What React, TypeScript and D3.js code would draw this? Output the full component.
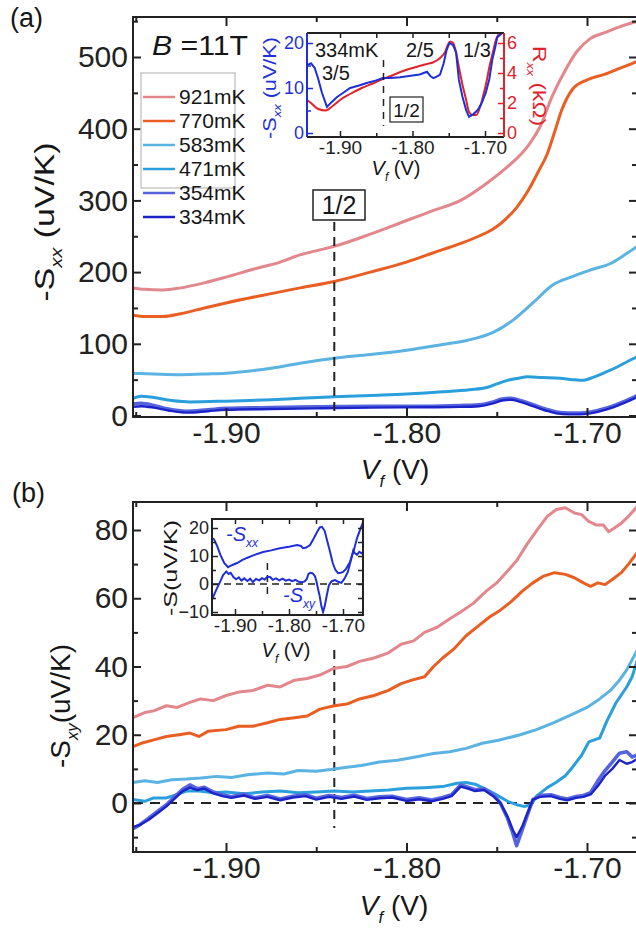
import { useEffect, useRef } from "react";
import * as d3 from "d3";

type Pt = [number, number];
type Part = { t: string; italic?: boolean; sub?: boolean };

const FONT = "'Liberation Sans', Arial, Helvetica, sans-serif";

const temps = ["921mK", "770mK", "583mK", "471mK", "354mK", "334mK"];
const colors = ["#e2878b", "#e95e22", "#5bb3e2", "#2a9fdc", "#5563dd", "#1c24c9"];
const widths = [3, 3, 3, 3, 3.6, 2.4];

// (a) -Sxx (uV/K) vs Vf (V)
const sxx921: Pt[] = [[-1.9515,178],[-1.945,176],[-1.935,175],[-1.925,178],[-1.912,185],[-1.9,193],[-1.885,204],[-1.87,214],[-1.859,224],[-1.848,231],[-1.84,236],[-1.82,253],[-1.8,272],[-1.785,286],[-1.77,300],[-1.7555,324],[-1.744,347],[-1.733,375],[-1.725,408],[-1.7205,438],[-1.713,477],[-1.7055,508],[-1.698,526],[-1.689,535],[-1.682,542],[-1.672,550]];
const sxx770: Pt[] = [[-1.9515,140],[-1.945,138],[-1.935,138],[-1.925,142],[-1.912,150],[-1.9,157],[-1.875,170],[-1.859,178],[-1.84,187],[-1.82,200],[-1.8,214],[-1.785,227],[-1.77,240],[-1.76,250],[-1.752,260],[-1.745,274],[-1.739,290],[-1.733,312],[-1.727,340],[-1.722,365],[-1.718,395],[-1.714,426],[-1.708,455],[-1.7,468],[-1.69,476],[-1.682,484],[-1.672,494]];
const sxx583: Pt[] = [[-1.9515,59],[-1.94,58],[-1.925,57],[-1.91,58],[-1.9,59],[-1.875,66],[-1.859,73],[-1.84,80],[-1.82,85],[-1.8,91],[-1.78,99],[-1.766,105],[-1.752,116],[-1.741,133],[-1.73,157],[-1.719,182],[-1.709,193],[-1.698,203],[-1.687,212],[-1.678,226],[-1.672,236]];
const sxx471: Pt[] = [[-1.9515,24],[-1.947,27],[-1.94,25],[-1.93,21],[-1.92,19],[-1.9,20],[-1.875,22],[-1.859,24],[-1.84,26],[-1.82,28],[-1.8,30],[-1.78,33],[-1.765,36],[-1.7555,39],[-1.75,44],[-1.744,49],[-1.738,52],[-1.733,54],[-1.725,53],[-1.715,52],[-1.708,50],[-1.702,49],[-1.698,52],[-1.69,60],[-1.683,68],[-1.677,76],[-1.672,82]];
const sxx354: Pt[] = [[-1.9515,16],[-1.947,17],[-1.94,14],[-1.932,9],[-1.922,6],[-1.91,8],[-1.9,10],[-1.875,11],[-1.85,12],[-1.82,13],[-1.79,13],[-1.77,14],[-1.76,15],[-1.752,19],[-1.747,23],[-1.742,24],[-1.737,21],[-1.73,15],[-1.723,9],[-1.717,5],[-1.71,3.5],[-1.704,3.5],[-1.698,5],[-1.689,10.5],[-1.68,19],[-1.672,28]];
const sxx334: Pt[] = [[-1.9515,12],[-1.947,13],[-1.94,11],[-1.932,7],[-1.922,4],[-1.91,6],[-1.9,8],[-1.875,9],[-1.85,10],[-1.82,11],[-1.79,11.5],[-1.77,12],[-1.76,13],[-1.752,17],[-1.747,21],[-1.742,22],[-1.737,19],[-1.73,13],[-1.723,7],[-1.717,3],[-1.71,1.5],[-1.704,1.5],[-1.698,3],[-1.689,8.5],[-1.68,17],[-1.672,26]];

// (b) -Sxy (uV/K) vs Vf (V)
const sxy921: Pt[] = [[-1.9515,25],[-1.945,26.5],[-1.94,27],[-1.933,28.5],[-1.927,28],[-1.92,29.5],[-1.914,30.5],[-1.907,30],[-1.9,31.5],[-1.893,32.5],[-1.885,33],[-1.877,34.5],[-1.87,34],[-1.862,36],[-1.855,36.5],[-1.848,37.5],[-1.84,39.5],[-1.833,40],[-1.826,41.5],[-1.818,42.5],[-1.81,44],[-1.803,46.5],[-1.796,47.5],[-1.79,50],[-1.783,51.5],[-1.776,54],[-1.77,56],[-1.763,58.5],[-1.756,62],[-1.75,64.5],[-1.744,68],[-1.739,71],[-1.733,76],[-1.727,80.5],[-1.722,84],[-1.717,86],[-1.712,86.5],[-1.707,85],[-1.703,84.5],[-1.699,82.5],[-1.695,81.5],[-1.691,81.5],[-1.688,79.5],[-1.685,80.5],[-1.681,82],[-1.677,84],[-1.672,87]];
const sxy770: Pt[] = [[-1.9515,16.5],[-1.947,17.5],[-1.94,18.5],[-1.933,19.5],[-1.926,20],[-1.92,20.5],[-1.915,19.5],[-1.91,21],[-1.9,21.5],[-1.893,22.5],[-1.885,22.5],[-1.877,23.5],[-1.87,24.5],[-1.862,25],[-1.855,25.5],[-1.848,27.5],[-1.84,28.5],[-1.833,29],[-1.826,30.5],[-1.818,31.5],[-1.81,33],[-1.803,35],[-1.797,36],[-1.79,37],[-1.785,40],[-1.78,42.5],[-1.774,45],[-1.767,49],[-1.76,52],[-1.754,54.5],[-1.748,56.5],[-1.742,59],[-1.736,62],[-1.73,64.5],[-1.724,66.5],[-1.718,67.5],[-1.712,67],[-1.707,66],[-1.702,64.5],[-1.698,63.5],[-1.694,64.5],[-1.69,64],[-1.686,65.5],[-1.681,67.5],[-1.677,70],[-1.672,73.5]];
const sxy583: Pt[] = [[-1.9515,6],[-1.945,6.5],[-1.938,6],[-1.93,6.8],[-1.922,7],[-1.914,7.3],[-1.905,7.8],[-1.897,7.5],[-1.888,8.3],[-1.877,8.8],[-1.868,8.5],[-1.86,9.5],[-1.85,9.3],[-1.842,9.8],[-1.833,10.5],[-1.825,11],[-1.815,12],[-1.805,12.5],[-1.795,13.5],[-1.785,14.5],[-1.776,15],[-1.767,16],[-1.758,17.5],[-1.749,18.4],[-1.737,20],[-1.728,21.5],[-1.719,23.4],[-1.71,25.5],[-1.7,28],[-1.693,30.5],[-1.687,33],[-1.682,36],[-1.678,39],[-1.675,42],[-1.672,45]];
const sxy471: Pt[] = [[-1.9515,1],[-1.945,0.5],[-1.94,1.5],[-1.933,1.5],[-1.927,2.5],[-1.922,3.5],[-1.915,3.5],[-1.907,3],[-1.9,3.2],[-1.89,2.7],[-1.88,3.2],[-1.87,3.5],[-1.86,3],[-1.85,3.2],[-1.84,3.5],[-1.83,3.2],[-1.82,3.5],[-1.81,3.8],[-1.8,4.3],[-1.79,4.5],[-1.78,4.8],[-1.772,5.8],[-1.767,6],[-1.762,5.5],[-1.755,3.8],[-1.749,2],[-1.744,0.5],[-1.739,-0.5],[-1.735,-1],[-1.731,-0.6],[-1.728,2],[-1.722,4.5],[-1.717,6.1],[-1.712,8],[-1.708,10.5],[-1.703,14],[-1.699,17.9],[-1.696,18.5],[-1.693,19],[-1.689,24],[-1.684,29.3],[-1.678,34],[-1.675,37],[-1.672,42]];
const sxy354: Pt[] = [[-1.9515,-7.5],[-1.948,-6.5],[-1.943,-4.5],[-1.938,-2.5],[-1.933,-0.5],[-1.928,2],[-1.924,4],[-1.92,5.3],[-1.916,4.2],[-1.912,4.6],[-1.907,3.2],[-1.902,2.4],[-1.897,1.8],[-1.89,2.6],[-1.884,1.5],[-1.877,2.2],[-1.87,1.2],[-1.863,2],[-1.856,2.4],[-1.85,1.4],[-1.843,2.2],[-1.836,1.6],[-1.829,2.3],[-1.822,1.3],[-1.815,1.8],[-1.808,2],[-1.8,1],[-1.793,1.5],[-1.786,0.9],[-1.78,1.6],[-1.775,2.4],[-1.77,5.3],[-1.766,4.6],[-1.762,3.9],[-1.757,4.2],[-1.752,2.4],[-1.748,0],[-1.744,-4.5],[-1.741,-9],[-1.739,-12.5],[-1.736,-8],[-1.733,-3.5],[-1.73,1],[-1.726,2.2],[-1.72,2.4],[-1.715,1.6],[-1.711,1.2],[-1.706,1.9],[-1.702,2.2],[-1.698,3],[-1.694,6.5],[-1.69,9.5],[-1.686,12],[-1.682,14.6],[-1.678,15],[-1.675,13.5],[-1.672,14]];
const sxy334: Pt[] = [[-1.9515,-7],[-1.948,-6.5],[-1.943,-5],[-1.938,-3],[-1.933,-1],[-1.928,1.5],[-1.924,3.5],[-1.92,4.5],[-1.916,3.8],[-1.912,4.2],[-1.907,2.8],[-1.902,2],[-1.897,1.5],[-1.89,2.2],[-1.884,1.2],[-1.877,1.8],[-1.87,0.8],[-1.863,1.6],[-1.856,2],[-1.85,1],[-1.843,1.8],[-1.836,1.2],[-1.829,1.9],[-1.822,0.9],[-1.815,1.4],[-1.808,1.6],[-1.8,0.6],[-1.793,1.1],[-1.786,0.5],[-1.78,1.2],[-1.775,2],[-1.77,4.8],[-1.766,4.2],[-1.762,3.5],[-1.757,3.8],[-1.752,2],[-1.748,0],[-1.744,-4],[-1.741,-8],[-1.739,-10],[-1.736,-7],[-1.733,-3],[-1.73,1],[-1.726,1.8],[-1.72,2],[-1.715,1.2],[-1.711,0.8],[-1.706,1.5],[-1.702,1.8],[-1.698,2.5],[-1.694,5],[-1.69,8],[-1.686,10],[-1.682,12.6],[-1.678,11.5],[-1.675,12],[-1.672,13]];

// inset (a): 334mK, -Sxx (uV/K) and Rxx (kOhm)
const insetSxx: Pt[] = [[-1.9455,15],[-1.94,15.5],[-1.935,14.5],[-1.93,12],[-1.925,9],[-1.918,5.8],[-1.912,6.8],[-1.904,8],[-1.895,9],[-1.886,10],[-1.875,10.5],[-1.863,11.1],[-1.85,11.7],[-1.841,12.2],[-1.83,12.2],[-1.817,12.4],[-1.8,12.8],[-1.79,13],[-1.78,13.6],[-1.775,12.6],[-1.771,12.2],[-1.766,12.6],[-1.762,13],[-1.757,15.5],[-1.753,18.4],[-1.749,20],[-1.744,19.5],[-1.74,18],[-1.736,11.8],[-1.731,8],[-1.726,5.1],[-1.722,3.6],[-1.716,4.2],[-1.71,5.1],[-1.705,6.5],[-1.699,8.9],[-1.694,12],[-1.69,16.2],[-1.686,19],[-1.683,21.3],[-1.674,22.5]];
const insetRxx: Pt[] = [[-1.9455,2.2],[-1.94,2],[-1.93,1.6],[-1.92,1.5],[-1.91,1.8],[-1.9,2.2],[-1.886,2.6],[-1.87,3],[-1.855,3.3],[-1.841,3.6],[-1.83,3.8],[-1.815,4.1],[-1.795,4.4],[-1.78,4.6],[-1.772,4.7],[-1.762,5],[-1.755,5.4],[-1.751,5.9],[-1.748,6.1],[-1.744,6],[-1.74,5.4],[-1.736,4.4],[-1.731,3.2],[-1.726,2.2],[-1.722,1.4],[-1.717,1.2],[-1.712,1.2],[-1.707,1.7],[-1.703,2.4],[-1.698,3.4],[-1.694,4.4],[-1.689,5.4],[-1.685,6.2],[-1.681,6.6]];

// inset (b): -Sxx and -Sxy (uV/K)
const insetBSxx: Pt[] = [[-1.9426,16.4],[-1.939,16],[-1.933,13.5],[-1.927,10.4],[-1.92,7.5],[-1.913,6],[-1.905,6.8],[-1.896,7.5],[-1.887,8.5],[-1.878,9.3],[-1.865,10.3],[-1.848,11.4],[-1.833,12],[-1.817,12.8],[-1.8,13.3],[-1.785,13.9],[-1.778,13.6],[-1.774,12.8],[-1.768,13],[-1.761,13.9],[-1.755,16],[-1.748,18.6],[-1.743,20.2],[-1.739,20.4],[-1.734,19],[-1.73,16],[-1.724,11.5],[-1.719,7.5],[-1.714,5],[-1.709,3.9],[-1.704,4],[-1.7,4.3],[-1.694,5.5],[-1.687,7.9],[-1.68,12],[-1.674,16.4],[-1.668,19.5],[-1.663,22]];
const insetBSxy: Pt[] = [[-1.9426,-5.7],[-1.938,-3.5],[-1.933,-1.4],[-1.927,1],[-1.922,3.2],[-1.916,4.5],[-1.912,3.6],[-1.908,4],[-1.903,2.5],[-1.898,1.7],[-1.893,2.4],[-1.888,1.2],[-1.883,2],[-1.877,1.1],[-1.872,1.9],[-1.867,0.7],[-1.861,1.8],[-1.855,1.3],[-1.85,2.1],[-1.845,1.6],[-1.84,2.6],[-1.835,2.5],[-1.83,1.5],[-1.824,2],[-1.818,1.3],[-1.812,1.9],[-1.806,1.2],[-1.8,1.6],[-1.794,1],[-1.788,1.5],[-1.782,0.8],[-1.776,0.6],[-1.771,0.9],[-1.767,1.8],[-1.764,3.6],[-1.76,4],[-1.756,3.8],[-1.752,2.8],[-1.749,0.8],[-1.746,-2],[-1.743,-4.5],[-1.74,-8],[-1.737,-10],[-1.734,-8],[-1.73,-4],[-1.726,-0.4],[-1.721,1],[-1.715,1.4],[-1.709,0.8],[-1.703,0.4],[-1.697,2],[-1.691,4.3],[-1.686,8],[-1.681,12],[-1.678,11],[-1.674,10.4],[-1.67,11.5],[-1.666,11],[-1.663,11.4]];

const sxxSeries = [sxx921, sxx770, sxx583, sxx471, sxx354, sxx334];
const sxySeries = [sxy921, sxy770, sxy583, sxy471, sxy354, sxy334];

const xTicks = [-1.9, -1.8, -1.7];
const xMinor = [-1.95, -1.85, -1.75];
const yTicksA = [0, 100, 200, 300, 400, 500];
const yMinorA = [50, 150, 250, 350, 450, 550];
const yTicksB = [0, 20, 40, 60, 80];
const yMinorB = [-10, 10, 30, 50, 70];
const halfFilling = -1.84;

function rich(g: any, x: number, y: number, parts: Part[], size: number, opt: any = {}) {
  const t = g.append("text")
    .attr("font-family", FONT)
    .attr("font-size", size)
    .attr("fill", opt.fill || "#161616")
    .attr("text-anchor", opt.anchor || "start")
    .attr("transform", `translate(${x},${y}) rotate(${opt.rotate || 0})`);
  let shift = 0;
  parts.forEach((p) => {
    const target = p.sub ? size * 0.3 : 0;
    const s = t.append("tspan").text(p.t).attr("dy", target - shift);
    shift = target;
    if (p.italic) s.attr("font-style", "italic");
    if (p.sub) s.attr("font-size", size * 0.6);
  });
  if (opt.len) t.attr("textLength", opt.len).attr("lengthAdjust", "spacingAndGlyphs");
  return t;
}

function axis(g: any, ax: any, tr: string, color: string, sw: number, fs = 10) {
  const a = g.append("g").attr("transform", tr).call(ax);
  a.select(".domain").remove();
  a.attr("font-family", FONT).attr("font-size", fs);
  a.selectAll("line").attr("stroke", color).attr("stroke-width", sw);
  a.selectAll("text").attr("fill", color);
  return a;
}

function draw(svg: any) {
  const fmt = (d: any) => (+d).toFixed(2);
  const none = () => "";

  // ---------- panel (a)
  const L = 133, R = 637, Ta = 17, Ba = 417;
  const x = d3.scaleLinear().domain([-1.9, -1.7]).range([226, 587]);
  const yA = d3.scaleLinear().domain([0, 500]).range([415.5, 57]);

  svg.append("clipPath").attr("id", "clipA").append("rect")
    .attr("x", L).attr("y", Ta).attr("width", R - L).attr("height", Ba - Ta);
  const gA = svg.append("g");
  const lineA = d3.line<Pt>().x((d) => x(d[0])).y((d) => yA(d[1])).curve(d3.curveMonotoneX);
  gA.append("g").attr("clip-path", "url(#clipA)")
    .selectAll("path").data(sxxSeries).join("path")
    .attr("d", (d: Pt[]) => lineA(d))
    .attr("fill", "none")
    .attr("stroke", (_: any, i: number) => colors[i])
    .attr("stroke-width", (_: any, i: number) => widths[i])
    .attr("stroke-linejoin", "round");

  gA.append("line").attr("x1", x(halfFilling)).attr("x2", x(halfFilling))
    .attr("y1", 222).attr("y2", Ba).attr("stroke", "#222").attr("stroke-width", 2).attr("stroke-dasharray", "9,6");
  gA.append("rect").attr("x", 313).attr("y", 190).attr("width", 52).attr("height", 30)
    .attr("fill", "#fff").attr("stroke", "#222").attr("stroke-width", 1.5);
  rich(gA, 339, 214, [{ t: "1/2" }], 25, { anchor: "middle" });

  gA.append("rect").attr("x", L).attr("y", Ta).attr("width", R - L).attr("height", Ba - Ta)
    .attr("fill", "none").attr("stroke", "#222").attr("stroke-width", 2);
  axis(gA, d3.axisBottom(x).tickValues(xTicks).tickFormat(fmt).tickSizeInner(-9).tickSizeOuter(0).tickPadding(5), `translate(0,${Ba})`, "#222", 2, 30);
  axis(gA, d3.axisBottom(x).tickValues(xMinor).tickFormat(none).tickSizeInner(-5).tickSizeOuter(0), `translate(0,${Ba})`, "#222", 2);
  axis(gA, d3.axisTop(x).tickValues(xTicks).tickFormat(none).tickSizeInner(-9).tickSizeOuter(0), `translate(0,${Ta})`, "#222", 2);
  axis(gA, d3.axisTop(x).tickValues(xMinor).tickFormat(none).tickSizeInner(-5).tickSizeOuter(0), `translate(0,${Ta})`, "#222", 2);
  axis(gA, d3.axisLeft(yA).tickValues(yTicksA).tickFormat(d3.format("d")).tickSizeInner(-8).tickSizeOuter(0).tickPadding(5), `translate(${L},0)`, "#222", 2, 30);
  axis(gA, d3.axisLeft(yA).tickValues(yMinorA).tickFormat(none).tickSizeInner(-5).tickSizeOuter(0), `translate(${L},0)`, "#222", 2);
  axis(gA, d3.axisRight(yA).tickValues(yTicksA).tickFormat(none).tickSizeInner(-8).tickSizeOuter(0), `translate(${R},0)`, "#222", 2);
  axis(gA, d3.axisRight(yA).tickValues(yMinorA).tickFormat(none).tickSizeInner(-5).tickSizeOuter(0), `translate(${R},0)`, "#222", 2);

  rich(gA, 10, 27, [{ t: "(a)" }], 27);
  rich(gA, 54, 222, [{ t: "-S" }, { t: "xx", italic: true, sub: true }, { t: " (uV/K)" }], 28, { anchor: "middle", rotate: -90, len: 159 });
  rich(gA, 395, 479, [{ t: "V", italic: true }, { t: "f", italic: true, sub: true }, { t: " (V)" }], 28, { anchor: "middle" });
  rich(gA, 152, 55, [{ t: "B", italic: true }, { t: " =11T" }], 27, { len: 96 });

  // legend
  gA.append("rect").attr("x", 141).attr("y", 73).attr("width", 94).attr("height", 115)
    .attr("fill", "none").attr("stroke", "#c9c9c9").attr("stroke-width", 1.5);
  const rowY = [97, 121, 145, 169, 193, 217];
  temps.forEach((t, i) => {
    gA.append("line").attr("x1", 143).attr("x2", 175).attr("y1", rowY[i]).attr("y2", rowY[i])
      .attr("stroke", colors[i]).attr("stroke-width", 2.5);
    rich(gA, 179, rowY[i] + 7, [{ t }], 21);
  });

  // ---------- inset (a)
  const iL = 307, iR = 504, iT = 33, iB = 137;
  const xi = d3.scaleLinear().domain([-1.9, -1.7]).range([340, 485]);
  const yiL = d3.scaleLinear().domain([0, 20]).range([133, 43]);
  const yiR = d3.scaleLinear().domain([0, 6]).range([133, 43]);
  const blue = "#1f2fd8", red = "#e0232b";
  const gI = svg.append("g");
  gI.append("rect").attr("x", iL).attr("y", iT).attr("width", iR - iL).attr("height", iB - iT).attr("fill", "#fff");
  svg.append("clipPath").attr("id", "clipIA").append("rect")
    .attr("x", iL).attr("y", iT).attr("width", iR - iL).attr("height", iB - iT);
  const ci = gI.append("g").attr("clip-path", "url(#clipIA)");
  ci.append("path").attr("d", d3.line<Pt>().x((d) => xi(d[0])).y((d) => yiR(d[1])).curve(d3.curveMonotoneX)(insetRxx))
    .attr("fill", "none").attr("stroke", red).attr("stroke-width", 2);
  ci.append("path").attr("d", d3.line<Pt>().x((d) => xi(d[0])).y((d) => yiL(d[1]))(insetSxx))
    .attr("fill", "none").attr("stroke", blue).attr("stroke-width", 2);
  gI.append("line").attr("x1", xi(halfFilling)).attr("x2", xi(halfFilling)).attr("y1", 60).attr("y2", 126)
    .attr("stroke", "#222").attr("stroke-width", 1.5).attr("stroke-dasharray", "7,6");
  gI.append("rect").attr("x", 390).attr("y", 97).attr("width", 33).attr("height", 25)
    .attr("fill", "#fff").attr("stroke", "#222").attr("stroke-width", 1.2);
  rich(gI, 406.5, 117, [{ t: "1/2" }], 19, { anchor: "middle" });
  rich(gI, 315, 57, [{ t: "334mK" }], 20);
  rich(gI, 322, 80, [{ t: "3/5" }], 20);
  rich(gI, 406, 57, [{ t: "2/5" }], 20);
  rich(gI, 463, 57, [{ t: "1/3" }], 20);

  gI.append("line").attr("x1", iL).attr("x2", iR).attr("y1", iT).attr("y2", iT).attr("stroke", "#222").attr("stroke-width", 2);
  gI.append("line").attr("x1", iL).attr("x2", iR).attr("y1", iB).attr("y2", iB).attr("stroke", "#222").attr("stroke-width", 2);
  gI.append("line").attr("x1", iL).attr("x2", iL).attr("y1", iT).attr("y2", iB).attr("stroke", blue).attr("stroke-width", 2);
  gI.append("line").attr("x1", iR).attr("x2", iR).attr("y1", iT).attr("y2", iB).attr("stroke", red).attr("stroke-width", 2);
  axis(gI, d3.axisBottom(xi).tickValues(xTicks).tickFormat(fmt).tickSizeInner(-6).tickSizeOuter(0).tickPadding(4), `translate(0,${iB})`, "#222", 1.5, 19);
  axis(gI, d3.axisBottom(xi).tickValues([-1.85, -1.75]).tickFormat(none).tickSizeInner(-4).tickSizeOuter(0), `translate(0,${iB})`, "#222", 1.5);
  axis(gI, d3.axisTop(xi).tickValues([-1.9, -1.85, -1.8, -1.75, -1.7]).tickFormat(none).tickSizeInner(-5).tickSizeOuter(0), `translate(0,${iT})`, "#222", 1.5);
  axis(gI, d3.axisLeft(yiL).tickValues([0, 10, 20]).tickFormat(d3.format("d")).tickSizeInner(-6).tickSizeOuter(0).tickPadding(3), `translate(${iL},0)`, blue, 1.5, 18);
  axis(gI, d3.axisLeft(yiL).tickValues([5, 15]).tickFormat(none).tickSizeInner(-4).tickSizeOuter(0), `translate(${iL},0)`, blue, 1.5);
  axis(gI, d3.axisRight(yiR).tickValues([0, 2, 4, 6]).tickFormat(d3.format("d")).tickSizeInner(-6).tickSizeOuter(0).tickPadding(3), `translate(${iR},0)`, red, 1.5, 18);
  axis(gI, d3.axisRight(yiR).tickValues([1, 3, 5]).tickFormat(none).tickSizeInner(-4).tickSizeOuter(0), `translate(${iR},0)`, red, 1.5);
  rich(gI, 276, 88, [{ t: "-S" }, { t: "xx", italic: true, sub: true }, { t: " (uV/K)" }], 18, { anchor: "middle", rotate: -90, fill: blue, len: 102 });
  rich(gI, 533, 86, [{ t: "R" }, { t: "xx", italic: true, sub: true }, { t: " (k\u03a9)" }], 19, { anchor: "middle", rotate: 90, fill: red, len: 80 });
  rich(gI, 396, 175, [{ t: "V", italic: true }, { t: "f", italic: true, sub: true }, { t: " (V)" }], 20, { anchor: "middle" });

  // ---------- panel (b)
  const Tb = 502, Bb = 852;
  const yB = d3.scaleLinear().domain([0, 80]).range([803, 530]);
  svg.append("clipPath").attr("id", "clipB").append("rect")
    .attr("x", L).attr("y", Tb).attr("width", R - L).attr("height", Bb - Tb);
  const gB = svg.append("g");
  const lineB = d3.line<Pt>().x((d) => x(d[0])).y((d) => yB(d[1]));
  gB.append("line").attr("x1", L).attr("x2", R).attr("y1", yB(0)).attr("y2", yB(0))
    .attr("stroke", "#222").attr("stroke-width", 2).attr("stroke-dasharray", "10,7");
  gB.append("line").attr("x1", x(halfFilling)).attr("x2", x(halfFilling)).attr("y1", 650).attr("y2", 828)
    .attr("stroke", "#222").attr("stroke-width", 2).attr("stroke-dasharray", "9,7");
  gB.append("g").attr("clip-path", "url(#clipB)")
    .selectAll("path").data(sxySeries).join("path")
    .attr("d", (d: Pt[]) => lineB(d))
    .attr("fill", "none")
    .attr("stroke", (_: any, i: number) => colors[i])
    .attr("stroke-width", (_: any, i: number) => widths[i])
    .attr("stroke-linejoin", "round");

  gB.append("rect").attr("x", L).attr("y", Tb).attr("width", R - L).attr("height", Bb - Tb)
    .attr("fill", "none").attr("stroke", "#222").attr("stroke-width", 2);
  axis(gB, d3.axisBottom(x).tickValues(xTicks).tickFormat(fmt).tickSizeInner(-9).tickSizeOuter(0).tickPadding(5), `translate(0,${Bb})`, "#222", 2, 30);
  axis(gB, d3.axisBottom(x).tickValues(xMinor).tickFormat(none).tickSizeInner(-5).tickSizeOuter(0), `translate(0,${Bb})`, "#222", 2);
  axis(gB, d3.axisTop(x).tickValues(xTicks).tickFormat(none).tickSizeInner(-9).tickSizeOuter(0), `translate(0,${Tb})`, "#222", 2);
  axis(gB, d3.axisTop(x).tickValues(xMinor).tickFormat(none).tickSizeInner(-5).tickSizeOuter(0), `translate(0,${Tb})`, "#222", 2);
  axis(gB, d3.axisLeft(yB).tickValues(yTicksB).tickFormat(d3.format("d")).tickSizeInner(-8).tickSizeOuter(0).tickPadding(5), `translate(${L},0)`, "#222", 2, 30);
  axis(gB, d3.axisLeft(yB).tickValues(yMinorB).tickFormat(none).tickSizeInner(-5).tickSizeOuter(0), `translate(${L},0)`, "#222", 2);
  axis(gB, d3.axisRight(yB).tickValues(yTicksB).tickFormat(none).tickSizeInner(-8).tickSizeOuter(0), `translate(${R},0)`, "#222", 2);
  axis(gB, d3.axisRight(yB).tickValues(yMinorB).tickFormat(none).tickSizeInner(-5).tickSizeOuter(0), `translate(${R},0)`, "#222", 2);

  rich(gB, 12, 502, [{ t: "(b)" }], 27);
  rich(gB, 70, 706, [{ t: "-S" }, { t: "xy", italic: true, sub: true }, { t: "(uV/K)" }], 28, { anchor: "middle", rotate: -90, len: 124 });
  rich(gB, 394, 915, [{ t: "V", italic: true }, { t: "f", italic: true, sub: true }, { t: " (V)" }], 28, { anchor: "middle" });

  // ---------- inset (b)
  const jL = 212, jR = 363, jT = 519, jB = 615;
  const xj = d3.scaleLinear().domain([-1.9, -1.7]).range([235, 343]);
  const yj = d3.scaleLinear().domain([0, 20]).range([584, 528]);
  const gJ = svg.append("g");
  gJ.append("rect").attr("x", jL).attr("y", jT).attr("width", jR - jL).attr("height", jB - jT).attr("fill", "#fff");
  gJ.append("line").attr("x1", jL).attr("x2", jR).attr("y1", yj(0)).attr("y2", yj(0))
    .attr("stroke", "#222").attr("stroke-width", 1.5).attr("stroke-dasharray", "7,5");
  gJ.append("line").attr("x1", xj(halfFilling)).attr("x2", xj(halfFilling)).attr("y1", 563).attr("y2", 598)
    .attr("stroke", "#222").attr("stroke-width", 1.5).attr("stroke-dasharray", "7,5");
  svg.append("clipPath").attr("id", "clipIB").append("rect")
    .attr("x", jL).attr("y", jT).attr("width", jR - jL).attr("height", jB - jT);
  const cj = gJ.append("g").attr("clip-path", "url(#clipIB)");
  const lineJ = d3.line<Pt>().x((d) => xj(d[0])).y((d) => yj(d[1]));
  [insetBSxx, insetBSxy].forEach((s) => {
    cj.append("path").attr("d", lineJ(s)).attr("fill", "none").attr("stroke", blue).attr("stroke-width", 2);
  });
  gJ.append("rect").attr("x", jL).attr("y", jT).attr("width", jR - jL).attr("height", jB - jT)
    .attr("fill", "none").attr("stroke", "#222").attr("stroke-width", 2);
  axis(gJ, d3.axisBottom(xj).tickValues(xTicks).tickFormat(fmt).tickSizeInner(-6).tickSizeOuter(0).tickPadding(4), `translate(0,${jB})`, "#222", 1.5, 19);
  axis(gJ, d3.axisBottom(xj).tickValues([-1.85, -1.75]).tickFormat(none).tickSizeInner(-4).tickSizeOuter(0), `translate(0,${jB})`, "#222", 1.5);
  axis(gJ, d3.axisTop(xj).tickValues([-1.9, -1.85, -1.8, -1.75, -1.7]).tickFormat(none).tickSizeInner(-5).tickSizeOuter(0), `translate(0,${jT})`, "#222", 1.5);
  axis(gJ, d3.axisLeft(yj).tickValues([-10, 0, 10, 20]).tickFormat(d3.format("d")).tickSizeInner(-6).tickSizeOuter(0).tickPadding(3), `translate(${jL},0)`, "#222", 1.5, 18);
  axis(gJ, d3.axisLeft(yj).tickValues([-5, 5, 15]).tickFormat(none).tickSizeInner(-4).tickSizeOuter(0), `translate(${jL},0)`, "#222", 1.5);
  axis(gJ, d3.axisRight(yj).tickValues([-10, -5, 0, 5, 10, 15, 20]).tickFormat(none).tickSizeInner(-5).tickSizeOuter(0), `translate(${jR},0)`, "#222", 1.5);
  rich(gJ, 177, 568, [{ t: "-S(uV/K)" }], 19, { anchor: "middle", rotate: -90, len: 96 });
  rich(gJ, 286, 657, [{ t: "V", italic: true }, { t: "f", italic: true, sub: true }, { t: " (V)" }], 20, { anchor: "middle" });
  rich(gJ, 226, 541, [{ t: "-S", italic: true }, { t: "xx", italic: true, sub: true }], 20, { fill: blue });
  rich(gJ, 283, 602, [{ t: "-S", italic: true }, { t: "xy", italic: true, sub: true }], 20, { fill: blue });
}

export default function App() {
  const ref = useRef<SVGSVGElement>(null);
  useEffect(() => {
    const svg = d3.select(ref.current);
    svg.selectAll("*").remove();
    draw(svg);
  }, []);
  return (
    <svg
      ref={ref}
      width={636}
      height={934}
      style={{ position: "absolute", left: 0, top: 0, background: "#fff" }}
    />
  );
}
